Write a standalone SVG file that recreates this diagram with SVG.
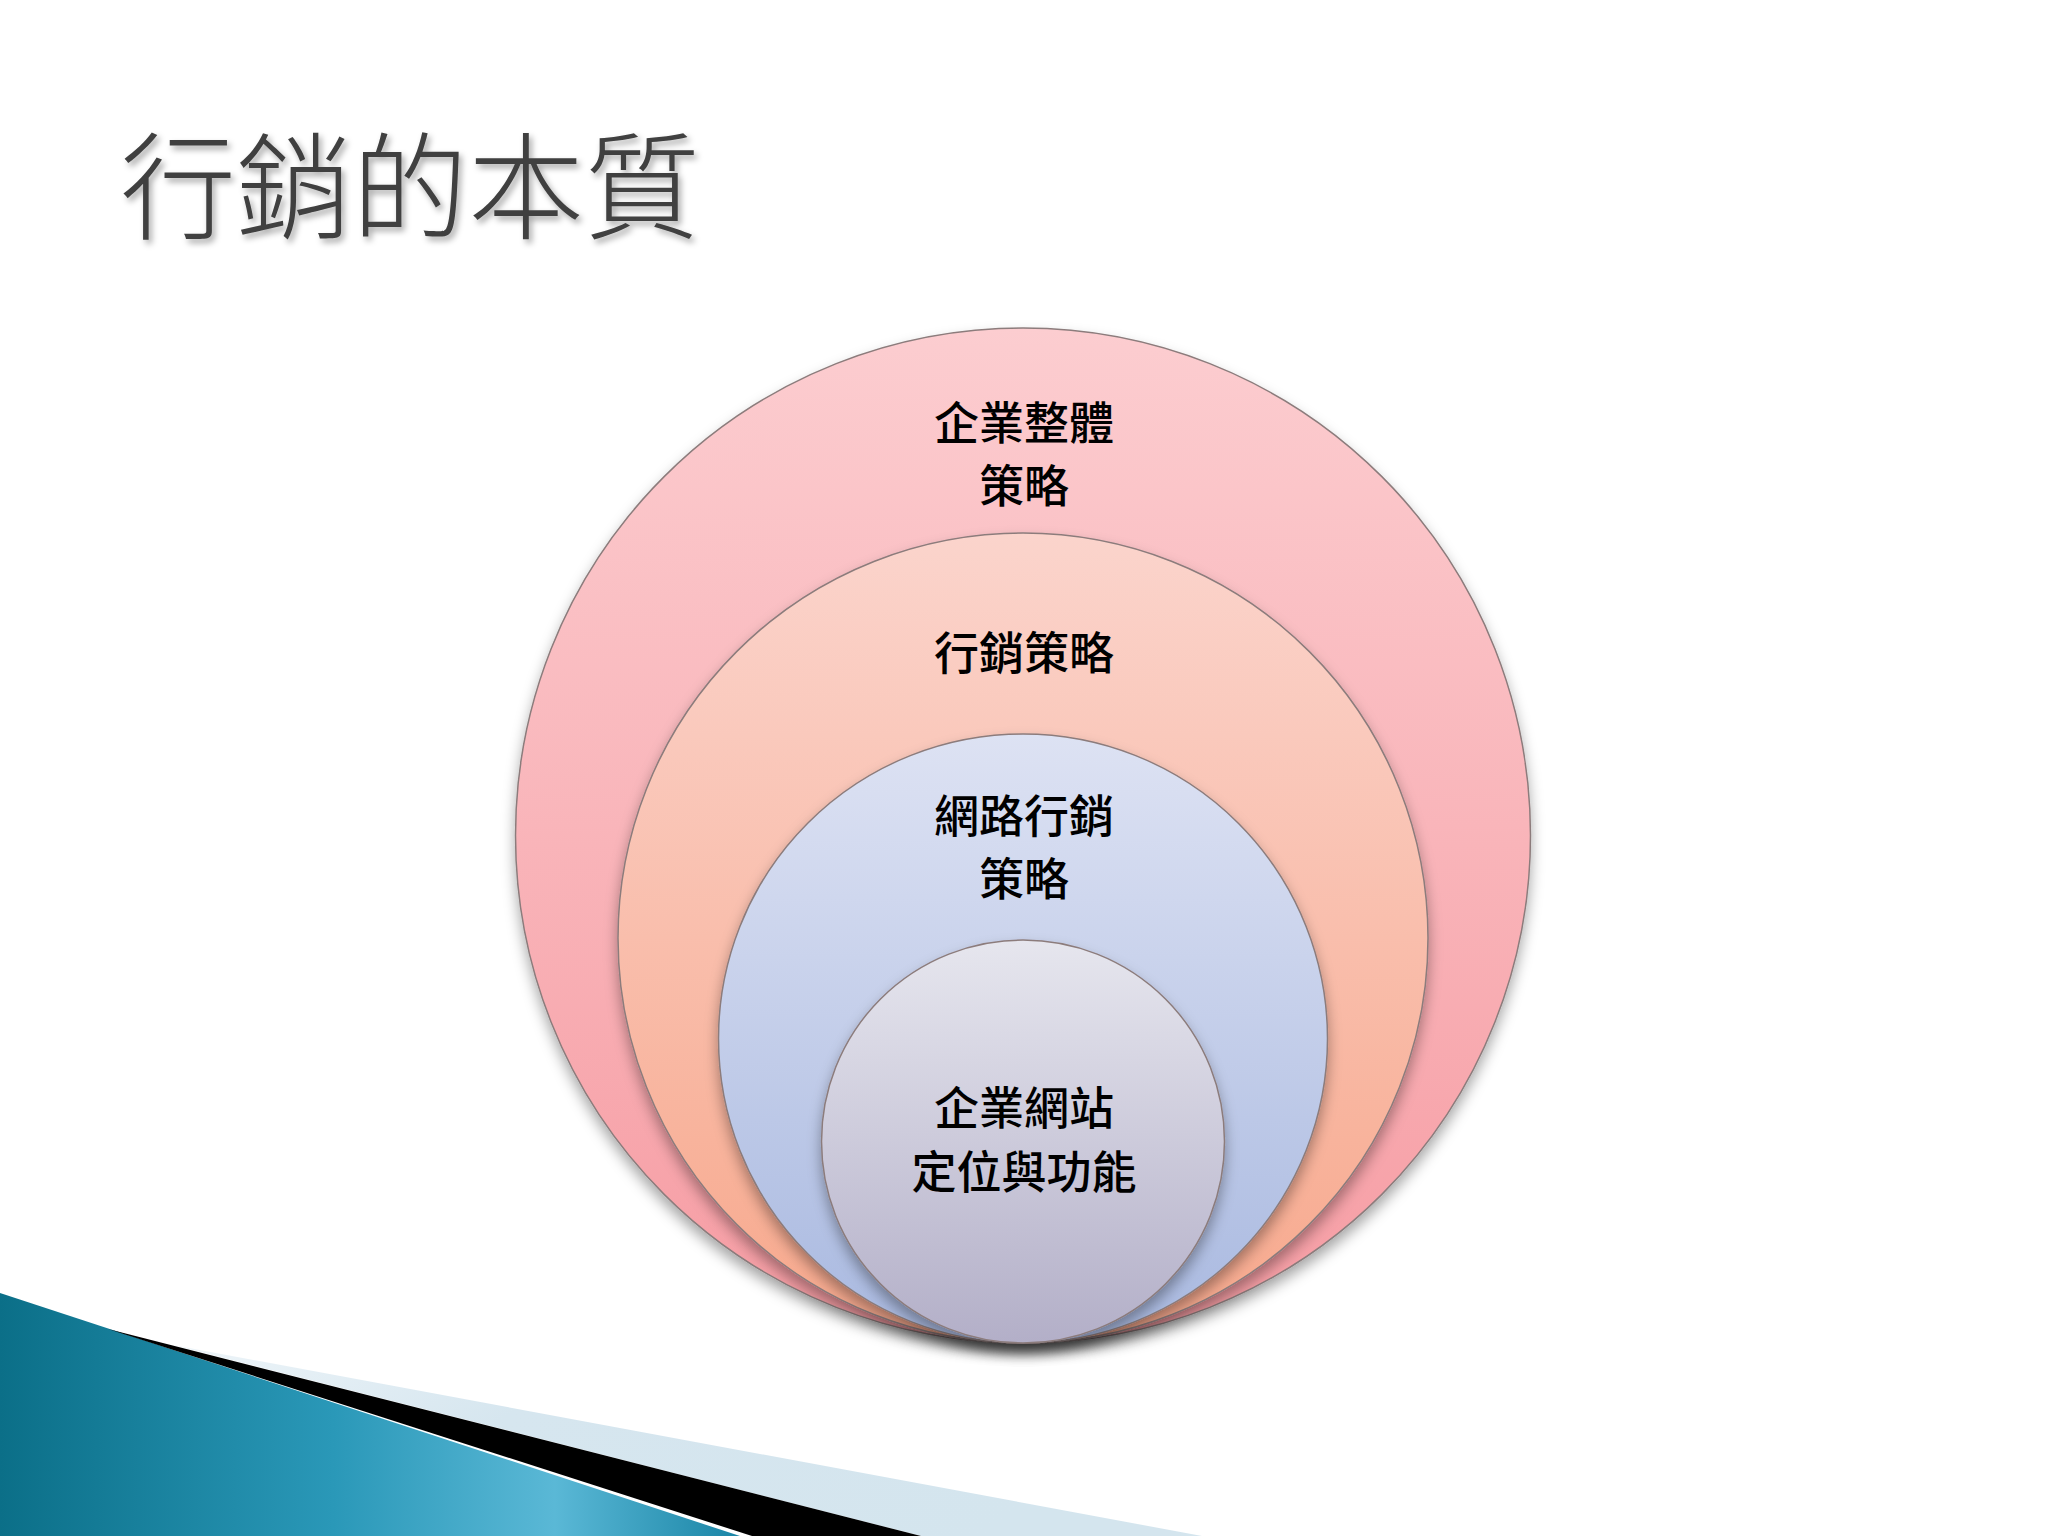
<svg xmlns="http://www.w3.org/2000/svg" width="2048" height="1536" viewBox="0 0 2048 1536">
<defs>
<style>
.lbl{font-family:"Noto Sans CJK TC","Noto Sans CJK SC",sans-serif;font-size:45px;font-weight:500;fill:#000;text-anchor:middle}
.title{font-family:"Noto Sans CJK TC","Noto Sans CJK SC",sans-serif;font-size:116px;fill:#404040;font-weight:300}
.ring{stroke:#8c7c7c;stroke-width:1.5}
</style>
<linearGradient id="g1" x1="0" y1="0" x2="0" y2="1">
<stop offset="0" stop-color="#fccdd0"/><stop offset="1" stop-color="#f69ca3"/>
</linearGradient>
<linearGradient id="g2" x1="0" y1="0" x2="0" y2="1">
<stop offset="0" stop-color="#fbd4cc"/><stop offset="1" stop-color="#f7a88c"/>
</linearGradient>
<linearGradient id="g3" x1="0" y1="0" x2="0" y2="1">
<stop offset="0" stop-color="#dde2f3"/><stop offset="1" stop-color="#a9b9e0"/>
</linearGradient>
<linearGradient id="g4" x1="0" y1="0" x2="0" y2="1">
<stop offset="0" stop-color="#e6e6ee"/><stop offset="1" stop-color="#b3afc8"/>
</linearGradient>
<linearGradient id="teal" x1="0" y1="0" x2="1" y2="0">
<stop offset="0" stop-color="#0b6f88"/><stop offset="0.45" stop-color="#2a98b8"/><stop offset="0.75" stop-color="#5ab8d6"/><stop offset="1" stop-color="#1a85a6"/>
</linearGradient>
<linearGradient id="lb" x1="0" y1="0" x2="1" y2="0.3">
<stop offset="0" stop-color="#eef5f9"/><stop offset="0.4" stop-color="#d6e6ef"/><stop offset="1" stop-color="#d4e5ee"/>
</linearGradient>
<filter id="sh" x="-10%" y="-10%" width="120%" height="125%">
<feDropShadow dx="0" dy="8" stdDeviation="7" flood-color="#000" flood-opacity="0.35"/>
</filter>
<filter id="tsh" x="-5%" y="-20%" width="115%" height="150%">
<feDropShadow dx="3" dy="4" stdDeviation="3" flood-color="#000" flood-opacity="0.35"/>
</filter>
</defs>
<rect width="2048" height="1536" fill="#ffffff"/>
<g id="title">
<text class="title" x="120" y="230" filter="url(#tsh)">行銷的本質</text>
</g>
<g id="decoration">
<polygon points="173,1345 1202,1536 921,1536" fill="url(#lb)"/>
<polygon points="0,1293 740,1536 0,1536" fill="url(#teal)"/>
<polygon points="108,1329 921,1536 752,1536" fill="#000"/>
</g>
<g id="connectors"></g>
<g id="node-corporate" filter="url(#sh)">
<circle class="ring" cx="1023" cy="835.5" r="507.5" fill="url(#g1)"/>
</g>
<g id="node-marketing" filter="url(#sh)">
<circle class="ring" cx="1023" cy="938" r="405" fill="url(#g2)"/>
</g>
<g id="node-online" filter="url(#sh)">
<circle class="ring" cx="1023" cy="1038.5" r="304.5" fill="url(#g3)"/>
</g>
<g id="node-website" filter="url(#sh)">
<circle class="ring" cx="1023" cy="1141.5" r="201.5" fill="url(#g4)"/>
</g>
<g id="labels">
<text class="lbl" x="1024" y="440">企業整體</text>
<text class="lbl" x="1024" y="503">策略</text>
<text class="lbl" x="1024" y="670">行銷策略</text>
<text class="lbl" x="1024" y="833">網路行銷</text>
<text class="lbl" x="1024" y="896">策略</text>
<text class="lbl" x="1024" y="1125">企業網站</text>
<text class="lbl" x="1024" y="1189">定位與功能</text>
</g>
</svg>
